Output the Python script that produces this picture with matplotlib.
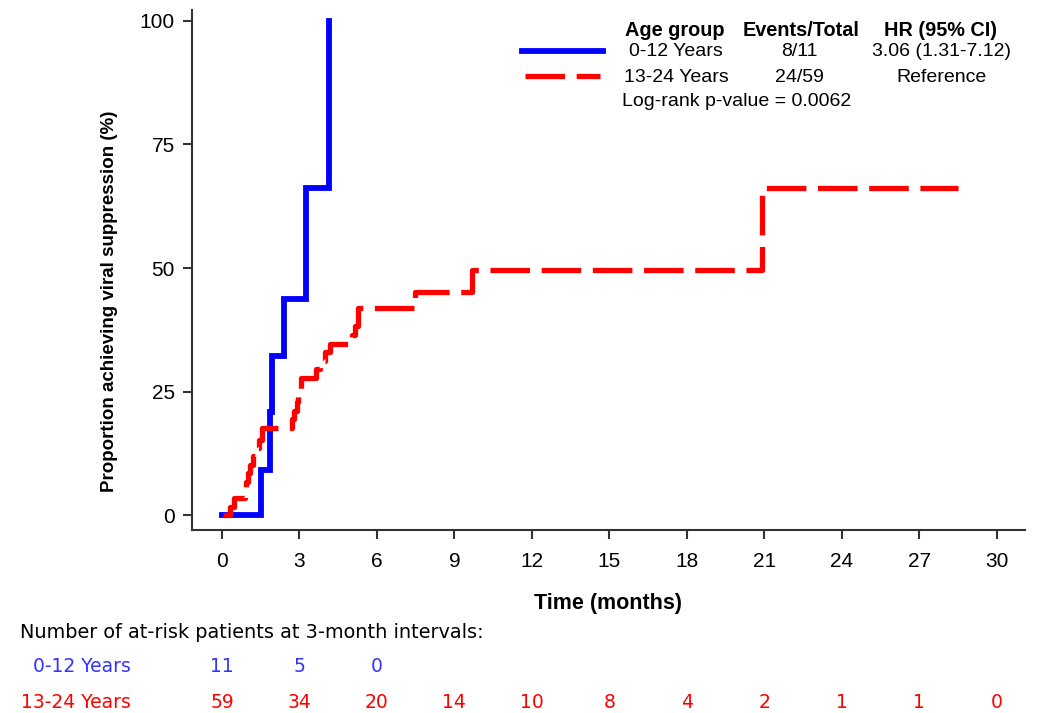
import matplotlib
matplotlib.use("Agg")
import matplotlib.pyplot as plt
from matplotlib.lines import Line2D
from matplotlib.transforms import blended_transform_factory

plt.rcParams['font.family'] = ['Liberation Sans', 'DejaVu Sans']

# Kaplan-Meier style cumulative curves
young_t = [0, 1.5, 1.88, 1.95, 2.4, 3.25, 4.15]
young_y = [0, 9.1, 20.9, 32.3, 43.8, 66.1, 100]

old_t = [0.05, 0.3, 0.45, 0.9, 0.95, 1.0, 1.1, 1.2, 1.35, 1.45, 1.55, 2.7, 2.8,
         2.9, 2.95, 3.05, 3.65, 3.8, 4.0, 4.2, 5.05, 5.15, 5.25, 7.48, 9.68,
         20.9, 28.5]
old_y = [0, 1.7, 3.4, 5.1, 6.8, 8.5, 10.2, 11.9, 13.6, 15.3, 17.6, 19.4, 21.1,
         22.9, 24.6, 27.7, 29.5, 31.2, 33.0, 34.7, 36.5, 38.2, 41.9, 45.2, 49.6,
         66.1, 66.1]

# at-risk table
risk_times = [0, 3, 6, 9, 12, 15, 18, 21, 24, 27, 30]
risk_young = ["11", "5", "0"]
risk_old = ["59", "34", "20", "14", "10", "8", "4", "2", "1", "1", "0"]

# legend table
groups = ["0-12 Years", "13-24 Years"]
events = ["8/11", "24/59"]
hr_text = ["3.06 (1.31-7.12)", "Reference"]

BLUE = "#0000ff"
RED = "#ff0000"

fig = plt.figure(figsize=(10.38, 7.13), dpi=100)
W, H = 1038, 713
ax = fig.add_axes([192 / W, 1 - 530 / H, (1025 - 192) / W, (530 - 10) / H])

ax.step(young_t, young_y, where='post', color=BLUE, lw=4.2, solid_joinstyle='miter')
ax.step(old_t, old_y, where='post', color=RED, lw=3.8, linestyle=(0, (7.5, 2.2)))

ax.set_xlim(-1.16, 31.1)
ax.set_ylim(-3.0, 102.2)
ax.set_xticks(range(0, 31, 3))
ax.set_yticks([0, 25, 50, 75, 100])
for s in ['top', 'right']:
    ax.spines[s].set_visible(False)
for s in ['left', 'bottom']:
    ax.spines[s].set_linewidth(1.5)
    ax.spines[s].set_color('#333333')
ax.tick_params(direction='out', length=6.5, width=1.5, color='#333333',
               labelsize=15, pad=6)
ax.tick_params(axis='x', pad=9)
ax.set_xlabel("Time (months)", fontsize=15.5, fontweight='bold')
ax.xaxis.set_label_coords(0.5, -0.121)
ax.set_ylabel("Proportion achieving viral suppression (%)", fontsize=13.5,
              fontweight='bold')
ax.yaxis.set_label_coords(-0.089, 0.44)

# legend drawn by hand, as a small table
def fx(px):
    return px / W

def fy(py):
    return 1 - py / H

fig.add_artist(Line2D([fx(522), fx(603)], [fy(51), fy(51)], color=BLUE, lw=4.2))
fig.add_artist(Line2D([fx(525), fx(600)], [fy(76), fy(76)], color=RED, lw=3.8,
                      linestyle=(0, (7.5, 2.2))))
hdr = dict(fontsize=14.3, fontweight='bold', ha='center', va='center')
fig.text(fx(675), fy(30), "Age group", **hdr)
fig.text(fx(801), fy(30), "Events/Total", **hdr)
fig.text(fx(941), fy(30), "HR (95% CI)", **hdr)
row_y = [52, 77]
for i in range(2):
    fig.text(fx(676), fy(row_y[i]), groups[i], fontsize=14, ha='center', va='center')
    fig.text(fx(799), fy(row_y[i]), events[i], fontsize=14, ha='center', va='center')
    fig.text(fx(941), fy(row_y[i]), hr_text[i], fontsize=14, ha='center', va='center')
fig.text(fx(622), fy(101), "Log-rank p-value = 0.0062", fontsize=14,
         ha='left', va='center')

# number at risk
tab = dict(fontsize=13.5, va='center', family=['DejaVu Sans'])
fig.text(fx(20), fy(633), "Number of at-risk patients at 3-month intervals:",
         ha='left', fontsize=13.85, va='center', family=['DejaVu Sans'])
fig.text(fx(131), fy(666), "0-12 Years", ha='right', color='#3333ff', **tab)
fig.text(fx(131), fy(703), "13-24 Years", ha='right', color=RED, **tab)
trans = blended_transform_factory(ax.transData, fig.transFigure)
for t, n in zip(risk_times, risk_young):
    ax.text(t, fy(666), n, transform=trans, ha='center', color='#3333ff',
            clip_on=False, **tab)
for t, n in zip(risk_times, risk_old):
    ax.text(t, fy(703), n, transform=trans, ha='center', color=RED,
            clip_on=False, **tab)

fig.savefig("out.png", dpi=100)
